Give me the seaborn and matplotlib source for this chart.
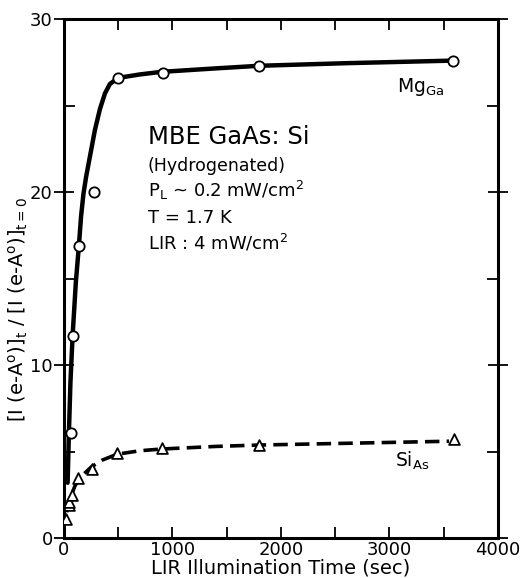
import numpy as np
import pandas as pd
import matplotlib
matplotlib.use("Agg")
import matplotlib.pyplot as plt
import seaborn as sns

# Data
mg_time = [65, 80, 138, 276, 500, 910, 1800, 3590]
mg_vals = [6.1, 11.7, 16.9, 20.0, 26.6, 26.9, 27.3, 27.6]

si_time = [15, 45, 50, 75, 130, 260, 490, 900, 1800, 3600]
si_vals = [1.1, 1.9, 2.1, 2.5, 3.5, 4.0, 4.9, 5.2, 5.4, 5.7]

# fitted curves
mg_fit_t = [34, 46, 60, 80, 110, 138, 158, 180, 205, 235, 286, 332, 378, 424, 500, 700, 900, 1400, 1800, 2600, 3590]
mg_fit_v = [3.2, 6.1, 9.0, 11.7, 14.8, 16.9, 18.6, 19.9, 20.9, 21.9, 23.6, 24.8, 25.7, 26.25, 26.6, 26.8, 26.95, 27.15, 27.3, 27.45, 27.6]

si_fit_t = [25, 60, 100, 150, 250, 350, 490, 700, 900, 1400, 1800, 2600, 3550]
si_fit_v = [1.5, 2.3, 3.0, 3.5, 4.1, 4.5, 4.85, 5.05, 5.15, 5.3, 5.38, 5.48, 5.6]

x_ticks = [0, 1000, 2000, 3000, 4000]
y_ticks = [0, 10, 20, 30]

sns.set_theme(style="ticks")
plt.rcParams['font.family'] = ['DejaVu Sans']
plt.rcParams['mathtext.fontset'] = 'dejavusans'
plt.rcParams['text.color'] = 'black'
plt.rcParams['axes.labelcolor'] = 'black'
plt.rcParams['xtick.color'] = 'black'
plt.rcParams['ytick.color'] = 'black'

fig = plt.figure(figsize=(5.24, 5.78), dpi=100)
ax = fig.add_axes([0.122, 0.069, 0.828, 0.898])

mg_fit = pd.DataFrame({"t": mg_fit_t, "v": mg_fit_v})
si_fit = pd.DataFrame({"t": si_fit_t, "v": si_fit_v})
mg = pd.DataFrame({"t": mg_time, "v": mg_vals})
si = pd.DataFrame({"t": si_time, "v": si_vals})

sns.lineplot(data=mg_fit, x="t", y="v", sort=False, color="black", lw=3.2, ax=ax)
sns.lineplot(data=si_fit, x="t", y="v", sort=False, color="black", lw=2.6, ax=ax,
             dashes=False, linestyle=(0, (4, 2)))
sns.scatterplot(data=mg, x="t", y="v", marker="o", s=55, facecolor="white",
                edgecolor="black", linewidth=1.3, ax=ax, zorder=5)
sns.scatterplot(data=si, x="t", y="v", marker="^", s=60, facecolor="white",
                edgecolor="black", linewidth=1.3, ax=ax, zorder=5)

ax.set_xlim(0, 4000)
ax.set_ylim(0, 30)
ax.set_xticks(x_ticks)
ax.set_xticklabels([str(v) for v in x_ticks], fontsize=13)
ax.set_yticks(y_ticks)
ax.set_yticklabels([str(v) for v in y_ticks], fontsize=13)
ax.set_xticks(np.arange(500, 4000, 1000), minor=True)
ax.set_yticks([5, 15, 25], minor=True)
ax.tick_params(axis='x', which='both', direction='in', length=8, width=1.3,
               top=True, pad=2, colors='black')
ax.tick_params(axis='y', which='major', direction='inout', length=14, width=1.3,
               right=True, pad=1, colors='black')
ax.tick_params(axis='y', which='minor', direction='in', length=8, width=1.3,
               right=True)
for s in ax.spines.values():
    s.set_linewidth(2.2)
    s.set_color('black')

ax.set_xlabel("LIR Illumination Time (sec)", fontsize=14, labelpad=0)
ax.set_ylabel(r"[I (e-A$^{\mathregular{o}}$)]$_{\mathregular{t}}$ / [I (e-A$^{\mathregular{o}}$)]$_{\mathregular{t=0}}$",
              fontsize=14)
ax.yaxis.set_label_coords(-0.078, 0.44)

ax.text(774, 22.8, "MBE GaAs: Si", fontsize=17.5)
ax.text(774, 21.2, "(Hydrogenated)", fontsize=12.5)
ax.text(774, 19.7, r"P$_{\mathregular{L}}$ ~ 0.2 mW/cm$^{\mathregular{2}}$", fontsize=13)
ax.text(774, 18.2, "T = 1.7 K", fontsize=13)
ax.text(774, 16.7, r"LIR : 4 mW/cm$^{\mathregular{2}}$", fontsize=13)
ax.text(3070, 25.8, r"Mg$_{\mathregular{Ga}}$", fontsize=13.5)
ax.text(3050, 4.1, r"Si$_{\mathregular{As}}$", fontsize=13.5)

fig.savefig("out.png", dpi=100)
